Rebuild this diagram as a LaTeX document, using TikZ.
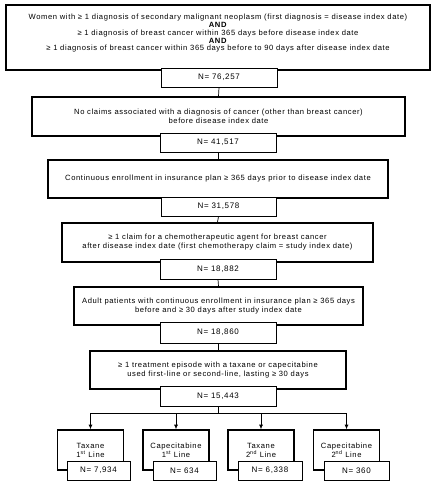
\documentclass[tikz,border=0pt]{standalone}
\usepackage{fontspec}
\setmainfont[LetterSpace=8]{Liberation Sans}
\usetikzlibrary{arrows.meta}
\tikzset{
  bigbox/.style={draw, line width=1.6pt, fill=white, inner sep=0pt},
  nbox/.style={draw, line width=0.9pt, fill=white, inner sep=0pt, minimum height=19pt,
    font=\fontsize{8}{9}\selectfont},
  txt/.style={align=center, inner sep=0pt, font=\fontsize{7.6}{9}\selectfont},
  conn/.style={line width=0.7pt},
  arr/.style={line width=0.7pt, -{Latex[length=4.5pt,width=4pt]}}
}
\begin{document}
\begin{tikzpicture}[x=1pt,y=-1pt]
\useasboundingbox (0,0) rectangle (436,486);
% box 1
\node[bigbox, minimum width=424pt, minimum height=65pt] (b1) at (218,37.5) {};
\node[txt, font=\fontsize{7.6}{7.75}\selectfont] (b1t) at (218,33.5) {Women with ≥ 1 diagnosis of secondary malignant neoplasm (first diagnosis = disease index date)\\
\textbf{AND}\\
≥ 1 diagnosis of breast cancer within 365 days before disease index date\\
\textbf{AND}\\
≥ 1 diagnosis of breast cancer within 365 days before to 90 days after disease index date};
\node[nbox, minimum width=116pt] (n1) at (219,77.5) {N= 76,257};
% box 2
\node[bigbox, minimum width=373pt, minimum height=39pt, txt] (b2) at (218.5,116.5) {No claims associated with a diagnosis of cancer (other than breast cancer)\\ before disease index date};
\node[nbox, minimum width=116pt] (n2) at (218,142.5) {N= 41,517};
% box 3
\node[bigbox, minimum width=340pt, minimum height=38pt, txt] (b3) at (218,179) {Continuous enrollment in insurance plan ≥ 365 days prior to disease index date};
\node[nbox, minimum width=115pt] (n3) at (218.5,206.5) {N= 31,578};
% box 4
\node[bigbox, minimum width=311pt, minimum height=39pt, txt] (b4) at (217.5,242.5) {≥ 1 claim for a chemotherapeutic agent for breast cancer\\ after disease index date (first chemotherapy claim = study index date)};
\node[nbox, minimum width=116pt, minimum height=20pt] (n4) at (218,269) {N= 18,882};
% box 5
\node[bigbox, minimum width=289pt, minimum height=38pt, txt] (b5) at (218.5,306) {Adult patients with continuous enrollment in insurance plan ≥ 365 days\\ before and ≥ 30 days after study index date};
\node[nbox, minimum width=116pt, minimum height=21pt] (n5) at (218,332.5) {N= 18,860};
% box 6
\node[bigbox, minimum width=256pt, minimum height=38pt, txt] (b6) at (218,370) {≥ 1 treatment episode with a taxane or capecitabine\\ used first-line or second-line, lasting ≥ 30 days};
\node[nbox, minimum width=116pt, minimum height=20pt] (n6) at (218,396) {N= 15,443};
% connectors
\draw[conn] (n1.south) -- (b2.north);
\draw[conn] (n2.south) -- (b3.north);
\draw[conn] (n3.south) -- (b4.north);
\draw[conn] (n4.south) -- (b5.north);
\draw[conn] (n5.south) -- (b6.north);
% bottom boxes
\node[bigbox, minimum width=66pt, minimum height=40pt, txt] (tA) at (90.5,450) {Taxane\\1\textsuperscript{st} Line};
\node[nbox, minimum width=63pt] (nA) at (98.5,470.5) {N= 7,934};
\node[bigbox, minimum width=66pt, minimum height=40pt, txt] (tB) at (176,450) {Capecitabine\\1\textsuperscript{st} Line};
\node[nbox, minimum width=63pt] (nB) at (184.5,470.5) {N= 634};
\node[bigbox, minimum width=66pt, minimum height=40pt, txt] (tC) at (261,450) {Taxane\\2\textsuperscript{nd} Line};
\node[nbox, minimum width=64pt] (nC) at (270,470.5) {N= 6,338};
\node[bigbox, minimum width=66pt, minimum height=40pt, txt] (tD) at (346.5,450) {Capecitabine\\2\textsuperscript{nd} Line};
\node[nbox, minimum width=65pt] (nD) at (356.5,470.5) {N= 360};
% branch
\coordinate (j) at (218,413);
\coordinate (cA) at (90.5,413);
\coordinate (cB) at (176,413);
\coordinate (cC) at (261,413);
\coordinate (cD) at (346.5,413);
\draw[conn] (n6.south) -- (j);
\draw[conn] (cA) -- (cD);
\draw[arr] (cA) -- (tA.north);
\draw[arr] (cB) -- (tB.north);
\draw[arr] (cC) -- (tC.north);
\draw[arr] (cD) -- (tD.north);
\end{tikzpicture}
\end{document}
